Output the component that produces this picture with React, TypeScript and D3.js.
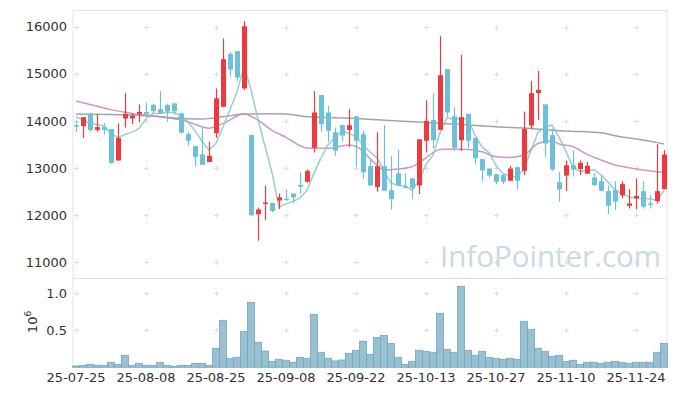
import React, { useRef, useEffect } from 'react';
import * as d3 from 'd3';

const W = 677;
const H = 396;
const plotLeft = 72.5;
const plotRight = 667.5;
const mainTop = 10;
const mainBottom = 278;
const volBottom = 367.3;

const dates = [
  '25-07-25', '25-07-28', '25-07-29', '25-07-30', '25-07-31', '25-08-01', '25-08-04', '25-08-05', '25-08-06', '25-08-07',
  '25-08-08', '25-08-11', '25-08-12', '25-08-13', '25-08-14', '25-08-18', '25-08-19', '25-08-20', '25-08-21', '25-08-22',
  '25-08-25', '25-08-26', '25-08-27', '25-08-28', '25-08-29', '25-09-01', '25-09-02', '25-09-03', '25-09-04', '25-09-05',
  '25-09-08', '25-09-09', '25-09-10', '25-09-11', '25-09-12', '25-09-15', '25-09-16', '25-09-17', '25-09-18', '25-09-19',
  '25-09-22', '25-09-23', '25-09-24', '25-09-25', '25-09-26', '25-09-29', '25-09-30', '25-10-01', '25-10-02', '25-10-10',
  '25-10-13', '25-10-14', '25-10-15', '25-10-16', '25-10-17', '25-10-20', '25-10-21', '25-10-22', '25-10-23', '25-10-24',
  '25-10-27', '25-10-28', '25-10-29', '25-10-30', '25-10-31', '25-11-03', '25-11-04', '25-11-05', '25-11-06', '25-11-07',
  '25-11-10', '25-11-11', '25-11-12', '25-11-13', '25-11-14', '25-11-17', '25-11-18', '25-11-19', '25-11-20', '25-11-21',
  '25-11-24', '25-11-25', '25-11-26', '25-11-27', '25-11-28',
];

const tickLabels = ['25-07-25', '25-08-08', '25-08-25', '25-09-08', '25-09-22', '25-10-13', '25-10-27', '25-11-10', '25-11-24'];
const priceTicks = [11000, 12000, 13000, 14000, 15000, 16000];
const volTicks = [500000, 1000000];

const opens = [
  13910, 13890, 14150, 13810, 13870, 13830, 13160, 14050, 14050, 14150,
  14190, 14340, 14250, 14340, 14370, 14160, 13720, 13470, 13290, 13130,
  13740, 14300, 15420, 15480, 14690, 13700, 12020, 12240, 12260, 12310,
  12350, 12460, 12640, 12710, 13430, 14550, 14180, 13760, 13910, 13810,
  14100, 13720, 13040, 12600, 13040, 12530, 12890, 12610, 12780, 12630,
  13580, 14020, 13810, 15100, 14100, 13590, 14150, 13640, 13190, 12990,
  12870, 12850, 12730, 13020, 12940, 13900, 14590, 14350, 13700, 12700,
  12840, 13060, 12980, 12880, 12800, 12720, 12510, 12530, 12420, 12200,
  12360, 12510, 12250, 12300, 12550,
];
const highs = [
  14000, 14080, 14180, 14150, 13950, 13830, 13950, 14590, 14160, 14350,
  14390, 14370, 14630, 14370, 14390, 14180, 13770, 13470, 13860, 13560,
  14690, 15750, 15460, 15480, 16120, 13700, 12160, 12630, 12260, 12460,
  12550, 12460, 12910, 12970, 14630, 14550, 14320, 13860, 13910, 14250,
  14100, 13790, 13180, 13760, 13910, 13250, 13390, 12890, 12780, 13610,
  14440, 14590, 15800, 15100, 14290, 15400, 14150, 13640, 13190, 12990,
  12870, 12870, 13050, 13020, 14200, 14850, 15060, 14350, 13840, 12920,
  13160, 13370, 13160, 13130, 12890, 12850, 12630, 12720, 12720, 12550,
  12780, 12720, 12430, 13510, 13380,
];
const lows = [
  13770, 13640, 13770, 13770, 13710, 13090, 13160, 13860, 13930, 13970,
  14090, 14150, 14150, 13980, 14130, 13730, 13470, 13030, 13070, 13130,
  13640, 14300, 14940, 14850, 14660, 11980, 11460, 11900, 12060, 12130,
  12310, 12250, 12450, 12690, 13330, 13770, 13560, 13260, 13560, 13450,
  13030, 12770, 12630, 12500, 12520, 12120, 12630, 12570, 12340, 12450,
  13330, 13420, 13810, 14090, 13360, 13360, 13420, 13080, 12730, 12800,
  12660, 12660, 12730, 12550, 12850, 13830, 14020, 13240, 12940, 12290,
  12510, 12820, 12850, 12880, 12620, 12500, 12020, 12110, 12360, 12140,
  12120, 12140, 12140, 12250, 12550,
];
const closes = [
  13880, 14080, 13810, 13870, 13810, 13110, 13640, 14150, 14110, 14190,
  14150, 14210, 14160, 14200, 14210, 13750, 13580, 13240, 13070, 13260,
  14480, 15310, 15090, 14920, 16010, 12000, 12120, 12270, 12090, 12380,
  12340, 12380, 12630, 12940, 14180, 13930, 13790, 13370, 13690, 13910,
  13580, 12910, 12630, 13040, 12520, 12340, 12630, 12580, 12570, 13610,
  14000, 13590, 14970, 14180, 13430, 14080, 13580, 13210, 12950, 12840,
  12710, 12710, 12990, 12730, 13830, 14590, 14660, 13520, 12970, 12550,
  13060, 12970, 13110, 13050, 12640, 12520, 12200, 12290, 12660, 12250,
  12410, 12180, 12240, 12510, 13290,
];
const volumes = [
  18000, 27000, 40000, 27000, 27000, 68000, 40000, 162000, 27000, 54000,
  27000, 27000, 68000, 27000, 14000, 27000, 27000, 54000, 54000, 27000,
  257000, 635000, 122000, 135000, 486000, 878000, 338000, 220000, 81000, 108000,
  95000, 68000, 135000, 122000, 716000, 203000, 122000, 86000, 99000, 189000,
  230000, 351000, 176000, 405000, 432000, 324000, 135000, 40000, 81000, 230000,
  216000, 203000, 730000, 243000, 203000, 1095000, 230000, 162000, 216000, 135000,
  122000, 108000, 122000, 108000, 622000, 514000, 257000, 216000, 149000, 162000,
  81000, 95000, 40000, 68000, 68000, 54000, 68000, 81000, 68000, 54000,
  68000, 68000, 68000, 203000, 324000,
];

// moving averages
const ma5 = [
  14090, 14020, 13950, 13930, 13887, 13734, 13646, 13714, 13763, 13839,
  14046, 14160, 14163, 14180, 14184, 14105, 13979, 13795, 13570, 13379,
  13525, 13872, 14242, 14612, 15164, 14668, 14030, 13465, 12901, 12173,
  12240, 12292, 12363, 12531, 12892, 13211, 13492, 13641, 13791, 13737,
  13668, 13491, 13342, 13214, 12935, 12686, 12630, 12622, 12527, 12745,
  13078, 13270, 13748, 14070, 14034, 14050, 14047, 13693, 13448, 13329,
  13056, 12882, 12840, 12796, 12994, 13371, 13760, 13866, 13914, 13658,
  13351, 13014, 12930, 12946, 12964, 12857, 12702, 12538, 12460, 12383,
  12360, 12356, 12346, 12316, 12524,
];
const ma20Days = [0, 2, 5, 8, 10, 13, 16, 18, 19, 21, 24, 26, 28, 30, 33, 36, 39, 41, 42, 43, 44, 46, 48, 50, 52, 54, 56, 58, 60, 62, 64, 66, 68, 69, 71, 73, 75, 77, 79, 81, 83, 84];
const ma20Values = [14422, 14351, 14240, 14160, 14125, 14070, 13983, 13877, 13845, 13948, 14146, 14019, 13800, 13652, 13425, 13418, 13489, 13360, 13200, 13060, 12957, 12978, 13028, 13219, 13396, 13403, 13396, 13346, 13240, 13226, 13276, 13523, 13573, 13510, 13453, 13290, 13170, 13063, 13007, 12957, 12922, 12908];
const ma60Days = [0, 5, 10, 13, 18, 21, 24, 27, 30, 33, 40, 46, 50, 55, 60, 65, 69, 72, 75, 77, 81, 84];
const ma60Values = [14146, 14135, 14110, 14075, 14040, 14089, 14146, 14150, 14146, 14089, 14054, 13998, 13969, 13927, 13877, 13842, 13792, 13775, 13750, 13686, 13594, 13512];

const upColor = '#ee3a3f';
const downColor = '#6cc0d8';

const Visualization = (element: SVGSVGElement) => {
  const svg = d3.select(element);
  svg.selectAll('*').remove();

  const x = d3.scaleBand<string>().domain(dates).range([plotLeft, plotRight]);
  const cx = (d: string) => (x(d) as number) + x.bandwidth() / 2;
  const y = d3.scaleLinear().domain([11000, 16000]).range([262.3, 26.7]);
  const yv = d3.scaleLinear().domain([0, 1000000]).range([volBottom, 293.3]);

  svg.append('rect').attr('width', W).attr('height', H).attr('fill', '#fff');

  const defs = svg.append('defs');
  defs.append('clipPath').attr('id', 'mainClip')
    .append('rect').attr('x', 73).attr('y', mainTop).attr('width', 594).attr('height', mainBottom - mainTop);

  // panel frames
  svg.append('rect')
    .attr('x', 73).attr('y', mainTop + 0.5).attr('width', 594).attr('height', mainBottom - mainTop)
    .attr('fill', 'none').attr('stroke', '#e3e3e3');
  svg.append('line')
    .attr('x1', 73).attr('x2', 73).attr('y1', mainBottom).attr('y2', volBottom)
    .attr('stroke', '#e3e3e3');
  svg.append('line')
    .attr('x1', 667).attr('x2', 667).attr('y1', mainBottom).attr('y2', volBottom)
    .attr('stroke', '#e3e3e3');

  // grid crosses
  const crosses = svg.append('g').attr('stroke', '#dcdcdc').attr('stroke-width', 1);
  const crossAt = (px: number, py: number) => {
    crosses.append('path').attr('d', `M${px - 2.5},${py}h5M${px},${py - 2.5}v5`);
  };
  tickLabels.forEach(t => {
    priceTicks.forEach(p => crossAt(Math.round(cx(t)) + 0.5, Math.round(y(p)) + 0.5));
    volTicks.forEach(v => crossAt(Math.round(cx(t)) + 0.5, Math.round(yv(v)) + 0.5));
  });

  // watermark
  svg.append('text')
    .attr('x', 440).attr('y', 267)
    .attr('font-family', 'Open Sans')
    .attr('font-size', 29.5)
    .attr('fill', '#c8dae4')
    .text('InfoPointer.com');

  // volume bars
  svg.append('g').selectAll('rect').data(dates).join('rect')
    .attr('x', d => x(d) as number)
    .attr('width', x.bandwidth())
    .attr('y', (d, i) => yv(volumes[i]))
    .attr('height', (d, i) => volBottom - yv(volumes[i]))
    .attr('fill', '#99c0d1')
    .attr('stroke', '#72a6be')
    .attr('stroke-width', 0.8);

  const main = svg.append('g').attr('clip-path', 'url(#mainClip)');

  // moving averages
  const ma60Line = d3.line<number>()
    .x((d, i) => cx(dates[ma60Days[i]]))
    .y(d => y(d))
    .curve(d3.curveMonotoneX);
  main.append('path').datum(ma60Values).attr('d', ma60Line)
    .attr('fill', 'none').attr('stroke', '#9a9a9a').attr('stroke-width', 1.5).attr('opacity', 0.9);

  const ma20Line = d3.line<number>()
    .x((d, i) => cx(dates[ma20Days[i]]))
    .y(d => y(d))
    .curve(d3.curveMonotoneX);
  main.append('path').datum(ma20Values).attr('d', ma20Line)
    .attr('fill', 'none').attr('stroke', '#c584c0').attr('stroke-width', 1.5).attr('opacity', 0.85);

  const ma5Line = d3.line<number>()
    .x((d, i) => cx(dates[i]))
    .y(d => y(d));
  main.append('path').datum(ma5).attr('d', ma5Line)
    .attr('fill', 'none').attr('stroke', '#84c8bc').attr('stroke-width', 1.5).attr('opacity', 0.85);

  // candles
  const candles = main.append('g').selectAll('g').data(dates).join('g');
  const color = (i: number) => (closes[i] >= opens[i] ? upColor : downColor);

  candles.append('line')
    .attr('x1', d => Math.round(cx(d)) + 0.5)
    .attr('x2', d => Math.round(cx(d)) + 0.5)
    .attr('y1', (d, i) => y(highs[i]))
    .attr('y2', (d, i) => y(lows[i]))
    .attr('stroke', (d, i) => color(i))
    .attr('stroke-width', 1.2);

  candles.append('rect')
    .attr('x', d => Math.round(cx(d)) - 2)
    .attr('width', 5)
    .attr('y', (d, i) => y(Math.max(opens[i], closes[i])))
    .attr('height', (d, i) => Math.max(1.5, Math.abs(y(opens[i]) - y(closes[i]))))
    .attr('fill', (d, i) => color(i));

  // axes
  const styleAxis = (g: d3.Selection<SVGGElement, unknown, null, undefined>) => {
    g.select('.domain').remove();
    g.selectAll('text')
      .attr('font-family', 'DejaVu Sans')
      .attr('font-size', 13)
      .attr('fill', '#333');
  };

  svg.append('g')
    .attr('transform', 'translate(73,0)')
    .call(d3.axisLeft(y).tickValues(priceTicks).tickSize(0).tickPadding(6).tickFormat(d3.format('d')))
    .call(styleAxis);

  svg.append('g')
    .attr('transform', 'translate(73,0)')
    .call(d3.axisLeft(yv).tickValues(volTicks).tickSize(0).tickPadding(6).tickFormat(d => ((d as number) / 1e6).toFixed(1)))
    .call(styleAxis);

  svg.append('g')
    .attr('transform', `translate(0,${volBottom})`)
    .call(d3.axisBottom(x).tickValues(tickLabels).tickSize(0).tickPadding(5))
    .call(styleAxis);

  // volume unit label
  const unit = svg.append('text')
    .attr('transform', 'translate(37,322) rotate(-90)')
    .attr('text-anchor', 'middle')
    .attr('font-family', 'DejaVu Sans')
    .attr('font-size', 13)
    .attr('fill', '#333');
  unit.append('tspan').text('10');
  unit.append('tspan').attr('font-size', 9).attr('dy', -6).text('6');
};

const App = () => {
  const ref = useRef<SVGSVGElement>(null);

  useEffect(() => {
    if (ref.current) Visualization(ref.current);
  }, []);

  return (
    <svg
      ref={ref}
      width={W}
      height={H}
      style={{ position: 'absolute', left: 0, top: 0, display: 'block' }}
    />
  );
};

export default App;
